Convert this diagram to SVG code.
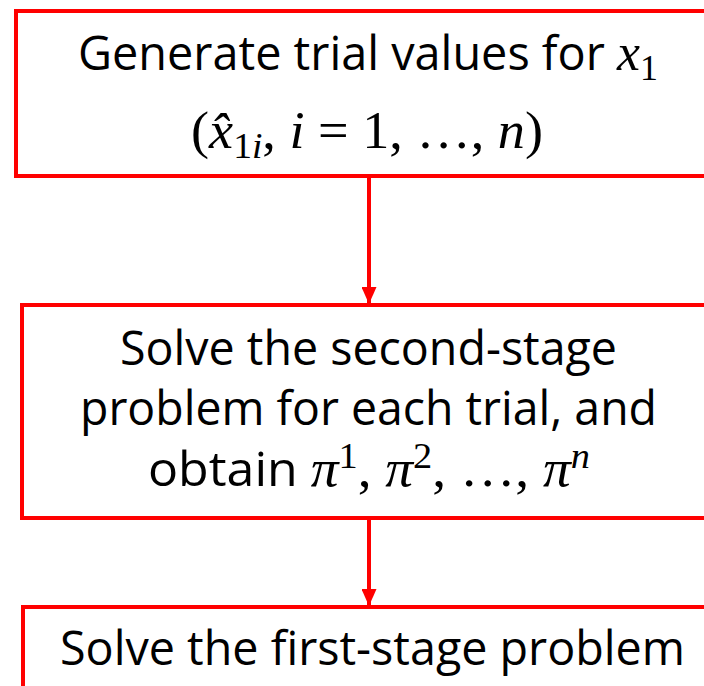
<svg xmlns="http://www.w3.org/2000/svg" width="704" height="686" viewBox="0 0 704 686">
  <style>
    .box { fill: #ffffff; stroke: #ff0000; stroke-width: 4; }
    .link { stroke: #ff0000; stroke-width: 4; fill: none; }
    .t { font-family: "Open Sans", "Noto Sans", sans-serif; font-size: 47px; fill: #000000; }
    .m { font-family: "Liberation Serif", "DejaVu Serif", serif; font-style: italic; font-size: 52px; }
    .n { font-family: "Liberation Serif", "DejaVu Serif", serif; font-style: normal; font-size: 52px; }
    .s { font-family: "Liberation Serif", "DejaVu Serif", serif; font-size: 36px; }
  </style>
  <defs>
    <marker id="head" viewBox="0 0 17 15" refX="17" refY="7.5" markerWidth="17" markerHeight="15" markerUnits="userSpaceOnUse" orient="auto">
      <path d="M0,0 L17,7.5 L0,15 Z" fill="#ff0000"/>
    </marker>
  </defs>

  <!-- step 1: trial values -->
  <g id="generate">
    <rect class="box" x="16" y="11" width="710" height="165"/>
    <text class="t" x="78" y="70" textLength="580" lengthAdjust="spacingAndGlyphs">Generate trial values for <tspan class="m">x</tspan><tspan class="s n" dy="10">1</tspan></text>
    <text class="t" x="191" y="148" textLength="352" lengthAdjust="spacingAndGlyphs"><tspan class="n">(</tspan><tspan class="m">x&#770;</tspan><tspan class="s n" dy="10">1</tspan><tspan class="s m">i</tspan><tspan class="n" dy="-10">, </tspan><tspan class="m">i</tspan><tspan class="n"> = 1, …, </tspan><tspan class="m">n</tspan><tspan class="n">)</tspan></text>
  </g>

  <!-- step 2: second-stage problem -->
  <g id="second-stage">
    <rect class="box" x="22" y="305" width="710" height="213"/>
    <text class="t" x="120" y="365" textLength="497" lengthAdjust="spacingAndGlyphs">Solve the second-stage</text>
    <text class="t" x="80" y="425" textLength="577" lengthAdjust="spacingAndGlyphs">problem for each trial, and</text>
    <text class="t" x="148" y="486" textLength="442" lengthAdjust="spacingAndGlyphs">obtain <tspan class="m">π</tspan><tspan class="s n" dy="-18">1</tspan><tspan class="n" dy="18">, </tspan><tspan class="m">π</tspan><tspan class="s n" dy="-18">2</tspan><tspan class="n" dy="18">, …, </tspan><tspan class="m">π</tspan><tspan class="s m" dy="-18">n</tspan></text>
  </g>

  <!-- step 3: first-stage problem -->
  <g id="first-stage">
    <rect class="box" x="23" y="607" width="710" height="120"/>
    <text class="t" x="60" y="665" textLength="625" lengthAdjust="spacingAndGlyphs">Solve the first-stage problem</text>
  </g>

  <g id="connectors">
    <line class="link" x1="369" y1="176" x2="369" y2="304" marker-end="url(#head)"/>
    <line class="link" x1="369" y1="518" x2="369" y2="606" marker-end="url(#head)"/>
  </g>
</svg>
